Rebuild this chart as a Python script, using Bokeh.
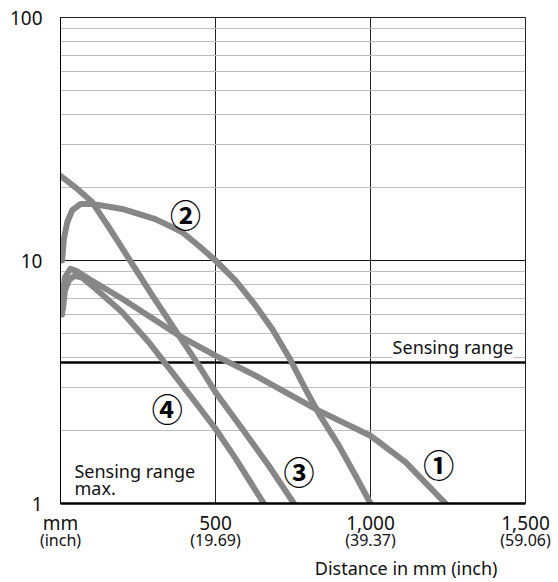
from bokeh.plotting import figure
from bokeh.models import FixedTicker, LinearAxis, Span, Label, ColumnDataSource, Title
from bokeh.core.properties import value
from bokeh.embed import file_html
from bokeh.resources import INLINE

# ---- data (distance mm, value) ----
c1_x = [5, 8, 14, 32, 55, 91, 199, 382, 500, 629, 833, 1000, 1113, 1242]
c1_y = [6.0, 7.3, 8.5, 9.25, 9.0, 8.41, 6.96, 4.91, 4.06, 3.36, 2.41, 1.90, 1.48, 1.0]
c2_x = [5, 11, 22, 38, 65, 102, 199, 306, 392, 446, 500, 565, 629, 683, 737, 790, 833, 898, 952, 1000]
c2_y = [10.0, 12.3, 14.4, 16.1, 17.1, 17.1, 16.3, 14.8, 13.1, 11.5, 10.0, 8.27, 6.53, 5.23, 4.0, 2.96, 2.35, 1.73, 1.30, 1.0]
c3_x = [0, 48, 102, 156, 220, 296, 382, 446, 500, 586, 672, 753]
c3_y = [22.3, 20.0, 17.4, 13.7, 10.2, 7.18, 4.91, 3.70, 2.87, 2.03, 1.43, 1.0]
c4_x = [8, 14, 27, 45, 70, 113, 199, 285, 360, 435, 500, 565, 656]
c4_y = [6.34, 7.5, 8.3, 8.65, 8.5, 7.65, 6.13, 4.61, 3.47, 2.61, 2.03, 1.53, 1.0]

curve_labels = ["\u2460", "\u2461", "\u2462", "\u2463"]
label_x = [1220, 403, 769, 344]
label_y = [1.457, 15.6, 1.37, 2.49]

sensing_range = 3.8
x_ticks = [0, 500, 1000, 1500]
x_tick_mm = ["mm", "500", "1,000", "1,500"]
x_tick_inch = ["(inch)", "(19.69)", "(39.37)", "(59.06)"]
y_ticks = [1, 10, 100]
y_tick_labels = ["1", "10", "100"]
y_minor = [2, 3, 4, 5, 6, 7, 8, 9, 20, 30, 40, 50, 60, 70, 80, 90]

FONT = "Noto Sans"
GRAY = "#878787"
TXT = "#111111"

p = figure(width=556, height=580, x_range=(0, 1500), y_range=(1, 100),
           y_axis_type="log", output_backend="svg", toolbar_location=None,
           min_border_left=60, min_border_right=31, min_border_top=17, min_border_bottom=77)
p.background_fill_color = "white"
p.border_fill_color = "white"
p.outline_line_color = "#222222"
p.outline_line_width = 1

# y axis
ya = p.yaxis[0]
ya.ticker = FixedTicker(ticks=y_ticks, minor_ticks=y_minor)
ya.major_label_overrides = dict(zip(y_ticks, y_tick_labels))
ya.major_tick_line_color = None
ya.minor_tick_line_color = None
ya.axis_line_color = "black"
ya.axis_line_width = 1
ya.major_label_standoff = 12
ya.major_label_text_font = FONT
ya.major_label_text_font_size = "19px"
ya.major_label_text_color = TXT

# x axis (mm)
xa = p.xaxis[0]
xa.ticker = FixedTicker(ticks=x_ticks)
xa.major_label_overrides = dict(zip(x_ticks, x_tick_mm))
xa.major_tick_line_color = None
xa.minor_tick_line_color = None
xa.axis_line_color = "black"
xa.axis_line_width = 2.5
xa.major_label_standoff = 0
xa.major_label_text_font = FONT
xa.major_label_text_font_size = "19px"
xa.major_label_text_color = TXT

# x axis (inch)
xa2 = LinearAxis(ticker=FixedTicker(ticks=x_ticks))
xa2.major_label_overrides = dict(zip(x_ticks, x_tick_inch))
xa2.major_tick_line_color = None
xa2.minor_tick_line_color = None
xa2.axis_line_color = None
xa2.major_label_standoff = -16
xa2.major_label_text_font = FONT
xa2.major_label_text_font_size = "16px"
xa2.major_label_text_color = TXT
p.add_layout(xa2, "below")

# axis title, right aligned below the tick labels
p.add_layout(Title(text="Distance in mm (inch)", align="right", offset=28,
                   text_font=FONT, text_font_size="18px", text_font_style="normal",
                   text_color=TXT, standoff=0), "below")

# grids
p.xgrid[0].ticker = FixedTicker(ticks=[500, 1000])
p.xgrid[0].grid_line_color = "#222222"
p.xgrid[0].grid_line_width = 1
p.ygrid[0].ticker = FixedTicker(ticks=[10], minor_ticks=y_minor)
p.ygrid[0].grid_line_color = "#111111"
p.ygrid[0].grid_line_width = 1
p.ygrid[0].minor_grid_line_color = "#bdbdbd"
p.ygrid[0].minor_grid_line_width = 1

# sensing range line
p.add_layout(Span(location=sensing_range, dimension="width", line_color="black",
                  line_width=2.5, level="underlay"))

# curves
for xs, ys in [(c1_x, c1_y), (c2_x, c2_y), (c3_x, c3_y), (c4_x, c4_y)]:
    p.line(xs, ys, line_color=GRAY, line_width=6, line_cap="round", line_join="round")

# circled curve labels
src = ColumnDataSource(dict(x=label_x, y=label_y, t=curve_labels))
p.text(x="x", y="y", text="t", source=src, text_font=value("Noto Sans CJK JP"),
       text_font_size="31px", text_font_style="bold", text_align="center",
       text_baseline="middle", text_color="black")

# texts
p.add_layout(Label(x=1461, y=4.39, text="Sensing range", text_align="right",
                   text_baseline="alphabetic", text_font=FONT, text_font_size="18px",
                   text_color=TXT, background_fill_color="white",
                   background_fill_alpha=1.0))
p.add_layout(Label(x=45, y=1.358, text="Sensing range", text_align="left",
                   text_baseline="alphabetic", text_font=FONT, text_font_size="18px",
                   text_color=TXT))
p.add_layout(Label(x=45, y=1.153, text="max.", text_align="left",
                   text_baseline="alphabetic", text_font=FONT, text_font_size="18px",
                   text_color=TXT))

open("out.html", "w").write(file_html(p, INLINE))
